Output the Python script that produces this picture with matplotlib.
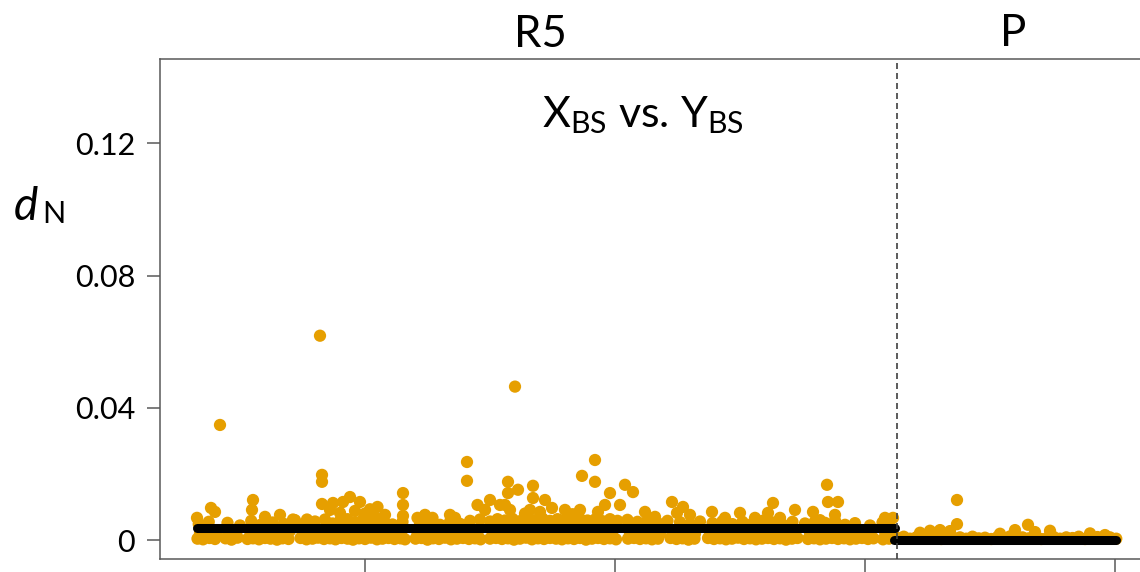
import matplotlib
matplotlib.use("Agg")
import matplotlib.pyplot as plt

# ---------------- data (x in Mb, y = dN) ----------------
r5_base = [(3.30,0.0004),(3.52,0.0002),(3.78,0.0006),(4.00,0.0003),(4.42,0.0005),(4.66,0.0001),(4.90,0.0007),(5.30,0.0003),(5.52,0.0005),(5.76,0.0002),(6.00,0.0006),(6.22,0.0004),(6.48,0.0001),(6.70,0.0005),(6.94,0.0003),(7.42,0.0006),(7.66,0.0002),(7.90,0.0004),(8.12,0.0007),(8.36,0.0003),(8.60,0.0005),(8.82,0.0002),(9.06,0.0006),(9.30,0.0004),(9.52,0.0001),(9.76,0.0005),(10.00,0.0003),(10.24,0.0007),(10.48,0.0002),(10.70,0.0004),(10.94,0.0006),(11.18,0.0003),(11.42,0.0005),(11.60,0.0002),(12.02,0.0004),(12.26,0.0006),(12.50,0.0001),(12.72,0.0005),(12.96,0.0003),(13.20,0.0007),(13.44,0.0002),(13.68,0.0004),(13.92,0.0006),(14.16,0.0003),(14.40,0.0005),(14.62,0.0002),(15.00,0.0004),(15.24,0.0006),(15.48,0.0003),(15.72,0.0005),(15.96,0.0001),(16.20,0.0004),(16.44,0.0007),(16.68,0.0002),(16.92,0.0005),(17.16,0.0003),(17.40,0.0006),(17.64,0.0004),(17.88,0.0002),(18.12,0.0005),(18.36,0.0003),(18.60,0.0006),(18.84,0.0001),(19.08,0.0004),(19.32,0.0006),(19.56,0.0003),(19.80,0.0005),(20.04,0.0002),(20.52,0.0004),(20.76,0.0006),(21.00,0.0003),(21.24,0.0005),(21.48,0.0002),(21.72,0.0004),(22.22,0.0006),(22.46,0.0003),(22.70,0.0005),(22.94,0.0001),(23.18,0.0004),(23.72,0.0006),(23.96,0.0003),(24.20,0.0005),(24.44,0.0002),(24.68,0.0004),(24.92,0.0007),(25.16,0.0003),(25.40,0.0005),(25.64,0.0002),(25.88,0.0004),(26.12,0.0006),(26.36,0.0003),(26.60,0.0005),(26.84,0.0001),(27.08,0.0004),(27.30,0.0006),(27.72,0.0003),(27.96,0.0005),(28.20,0.0002),(28.44,0.0004),(28.68,0.0006),(28.92,0.0003),(29.16,0.0005),(29.40,0.0002),(29.64,0.0004),(29.88,0.0006),(30.12,0.0003),(30.34,0.0005),(30.72,0.0002),(30.96,0.0004),(31.18,0.0006)]

r5_mid = [(3.40,0.0021),(3.70,0.0026),(4.05,0.0018),(4.55,0.0024),(4.85,0.0019),(5.40,0.0027),(5.70,0.0022),(6.05,0.0017),(6.35,0.0025),(6.65,0.0020),(7.00,0.0028),(7.55,0.0019),(7.85,0.0024),(8.15,0.0021),(8.45,0.0027),(8.75,0.0018),(9.05,0.0025),(9.35,0.0022),(9.65,0.0029),(9.95,0.0019),(10.25,0.0024),(10.55,0.0021),(10.85,0.0026),(11.15,0.0018),(11.45,0.0023),(12.10,0.0020),(12.40,0.0027),(12.70,0.0019),(13.00,0.0024),(13.30,0.0021),(13.60,0.0026),(13.90,0.0018),(14.20,0.0028),(14.50,0.0022),(15.10,0.0025),(15.40,0.0019),(15.70,0.0027),(16.00,0.0022),(16.30,0.0029),(16.60,0.0020),(16.90,0.0025),(17.20,0.0018),(17.50,0.0027),(17.80,0.0021),(18.10,0.0024),(18.40,0.0019),(18.70,0.0026),(19.00,0.0022),(19.30,0.0028),(19.60,0.0020),(19.90,0.0025),(20.60,0.0019),(20.90,0.0024),(21.20,0.0021),(21.50,0.0026),(21.80,0.0018),(22.30,0.0023),(22.60,0.0020),(22.90,0.0027),(23.20,0.0019),(23.80,0.0024),(24.10,0.0021),(24.40,0.0026),(24.70,0.0018),(25.00,0.0023),(25.30,0.0020),(25.60,0.0027),(25.90,0.0019),(26.20,0.0024),(26.50,0.0021),(26.80,0.0025),(27.10,0.0018),(27.80,0.0023),(28.10,0.0020),(28.40,0.0026),(28.70,0.0019),(29.00,0.0024),(29.30,0.0021),(29.60,0.0017),(29.90,0.0023),(30.20,0.0020),(30.80,0.0025),(31.10,0.0019)]

r5_upper = [(3.35,0.0048),(3.75,0.0055),(4.50,0.0052),(5.00,0.0044),(5.45,0.0058),(5.85,0.0047),(6.30,0.0053),(6.75,0.0049),(7.20,0.0060),(7.60,0.0045),(8.00,0.0056),(8.40,0.0062),(8.70,0.0050),(9.00,0.0058),(9.30,0.0063),(9.60,0.0054),(9.90,0.0060),(10.20,0.0057),(10.50,0.0064),(10.80,0.0052),(11.10,0.0047),(11.50,0.0055),(12.20,0.0050),(12.60,0.0057),(13.00,0.0046),(13.40,0.0055),(13.80,0.0049),(14.20,0.0058),(14.60,0.0062),(15.00,0.0056),(15.30,0.0063),(15.60,0.0059),(15.90,0.0064),(16.20,0.0057),(16.50,0.0062),(16.80,0.0060),(17.10,0.0065),(17.40,0.0058),(17.70,0.0063),(18.00,0.0061),(18.30,0.0056),(18.60,0.0064),(18.90,0.0059),(19.20,0.0062),(19.50,0.0057),(19.80,0.0063),(20.10,0.0058),(20.50,0.0061),(20.90,0.0055),(21.30,0.0060),(21.70,0.0052),(22.10,0.0058),(22.60,0.0054),(23.00,0.0049),(23.40,0.0056),(23.90,0.0051),(24.30,0.0057),(24.70,0.0048),(25.10,0.0055),(25.50,0.0050),(25.90,0.0058),(26.30,0.0053),(26.70,0.0047),(27.10,0.0055),(27.60,0.0050),(28.00,0.0057),(28.40,0.0052),(28.80,0.0059),(29.20,0.0046),(29.60,0.0051),(30.20,0.0044),(30.70,0.0053),(31.00,0.0058)]

r5_high = [(3.28,0.0067),(3.84,0.0097),(4.00,0.0085),(5.48,0.0091),(5.52,0.0121),(6.00,0.0070),(6.60,0.0076),(7.12,0.0062),(7.68,0.0062),(8.28,0.0109),(8.60,0.0091),(8.72,0.0112),(9.12,0.0115),(9.40,0.0130),(9.80,0.0115),(9.00,0.0082),(9.60,0.0088),(10.00,0.0080),(10.20,0.0093),(10.50,0.0100),(10.80,0.0076),(10.30,0.0072),(11.52,0.0073),(11.52,0.0106),(11.52,0.0142),(12.10,0.0067),(12.40,0.0076),(12.70,0.0067),(13.40,0.0076),(13.60,0.0067),(14.50,0.0106),(14.80,0.0091),(15.00,0.0121),(15.40,0.0106),(15.60,0.0106),(15.72,0.0142),(15.72,0.0176),(15.80,0.0091),(16.12,0.0152),(16.60,0.0091),(16.72,0.0127),(16.72,0.0164),(16.40,0.0080),(17.20,0.0121),(17.48,0.0097),(17.00,0.0085),(18.00,0.0091),(18.30,0.0078),(18.60,0.0091),(19.32,0.0085),(19.60,0.0106),(19.80,0.0142),(20.20,0.0106),(20.40,0.0167),(20.72,0.0145),(21.20,0.0085),(21.60,0.0070),(22.28,0.0115),(22.48,0.0082),(22.72,0.0100),(23.00,0.0076),(23.88,0.0085),(24.40,0.0067),(25.00,0.0082),(25.60,0.0067),(26.12,0.0082),(26.32,0.0112),(26.60,0.0067),(27.20,0.0091),(27.92,0.0085),(28.20,0.0060),(28.52,0.0115),(28.80,0.0076),(28.92,0.0115),(30.80,0.0067),(31.12,0.0067)]

r5_outliers = [(4.20,0.0348),(8.20,0.0618),(16.00,0.0464),(8.28,0.0197),(8.28,0.0176),(14.08,0.0236),(14.08,0.0179),(18.68,0.0194),(19.20,0.0242),(19.20,0.0176),(28.48,0.0167)]

p_base = [(31.30,0.0006),(31.55,0.0010),(31.80,0.0004),(32.05,0.0008),(32.30,0.0012),(32.55,0.0005),(32.80,0.0009),(33.05,0.0003),(33.30,0.0011),(33.55,0.0006),(33.80,0.0008),(34.05,0.0004),(34.30,0.0010),(34.55,0.0005),(34.80,0.0007),(35.05,0.0003),(35.30,0.0009),(35.55,0.0006),(35.80,0.0011),(36.05,0.0004),(36.30,0.0008),(36.55,0.0005),(36.80,0.0010),(37.05,0.0003),(37.30,0.0007),(37.55,0.0009),(37.80,0.0004),(38.05,0.0008),(38.30,0.0006),(38.55,0.0010),(38.80,0.0003),(39.05,0.0007),(39.30,0.0009),(39.55,0.0005),(39.80,0.0008),(40.05,0.0004)]

p_high = [(32.20,0.0022),(32.60,0.0028),(33.00,0.0030),(33.40,0.0027),(33.68,0.0048),(33.68,0.0121),(35.40,0.0019),(36.00,0.0030),(36.52,0.0046),(36.80,0.0024),(37.40,0.0028),(39.00,0.0020),(39.60,0.0015)]

r5_median = 0.0036
p_median = 0.0001
region_boundary = 31.28

y_ticks = [0, 0.04, 0.08, 0.12]
y_tick_labels = ["0", "0.04", "0.08", "0.12"]
x_ticks = [10, 20, 30, 40]

POINT_COLOR = "#E69F00"
SPINE_COLOR = "#595959"
FONT = "Lato"

plt.rcParams["font.family"] = [FONT, "DejaVu Sans"]
plt.rcParams["mathtext.fontset"] = "custom"
plt.rcParams["mathtext.rm"] = FONT
plt.rcParams["mathtext.it"] = FONT + ":italic"

W, H = 1140, 572
fig = plt.figure(figsize=(W / 100, H / 100), dpi=100)
ax = fig.add_axes([160 / W, (H - 559) / H, 1000 / W, (559 - 59.3) / H])

r5_all = r5_base + r5_mid + r5_upper + r5_high + r5_outliers
p_all = p_base + p_high

for pts in (r5_all, p_all):
    xs = [p[0] for p in pts]
    ys = [p[1] for p in pts]
    ax.scatter(xs, ys, s=78, color=POINT_COLOR, edgecolors="none", zorder=2)

r5_x = [p[0] for p in r5_all]
p_x = [p[0] for p in p_all]
ax.plot([min(r5_x), max(r5_x)], [r5_median, r5_median], color="black", lw=6.5,
        solid_capstyle="round", zorder=3)
ax.plot([min(p_x) - 0.15, max(p_x)], [p_median, p_median], color="black", lw=6.5,
        solid_capstyle="round", zorder=3)

ax.axvline(region_boundary, color="#404040", lw=1.2, linestyle=(0, (3.6, 2.4)), zorder=4)

ax.set_xlim(1.8, 41.8)
ax.set_ylim(-0.005747, 0.14541)

ax.set_yticks(y_ticks)
ax.set_yticklabels(y_tick_labels)
ax.set_xticks(x_ticks)
ax.set_xticklabels([])
ax.tick_params(axis="y", direction="out", length=9.5, width=1.1, color=SPINE_COLOR,
               labelsize=22, pad=8.5, labelcolor="black")
ax.tick_params(axis="x", direction="out", length=12, width=1.1, color=SPINE_COLOR)

for side in ("left", "bottom", "top"):
    ax.spines[side].set_color(SPINE_COLOR)
    ax.spines[side].set_linewidth(1.1)
ax.spines["right"].set_visible(False)

# header texts
fig.text(540 / W, 1 - 47 / H, "R5", ha="center", va="baseline", fontsize=31.5)
fig.text(1013 / W, 1 - 46 / H, "P", ha="center", va="baseline", fontsize=31.5)
fig.text(643 / W, 1 - 127 / H, r"X$_\mathregular{BS}$ vs. Y$_\mathregular{BS}$",
         ha="center", va="baseline", fontsize=31)

# y-axis label d_N
fig.text(14 / W, 1 - 220 / H, "d", ha="left", va="baseline", fontsize=33, style="italic")
fig.text(42 / W, 1 - 223 / H, "N", ha="left", va="baseline", fontsize=22)

fig.savefig("out.png", dpi=100)
